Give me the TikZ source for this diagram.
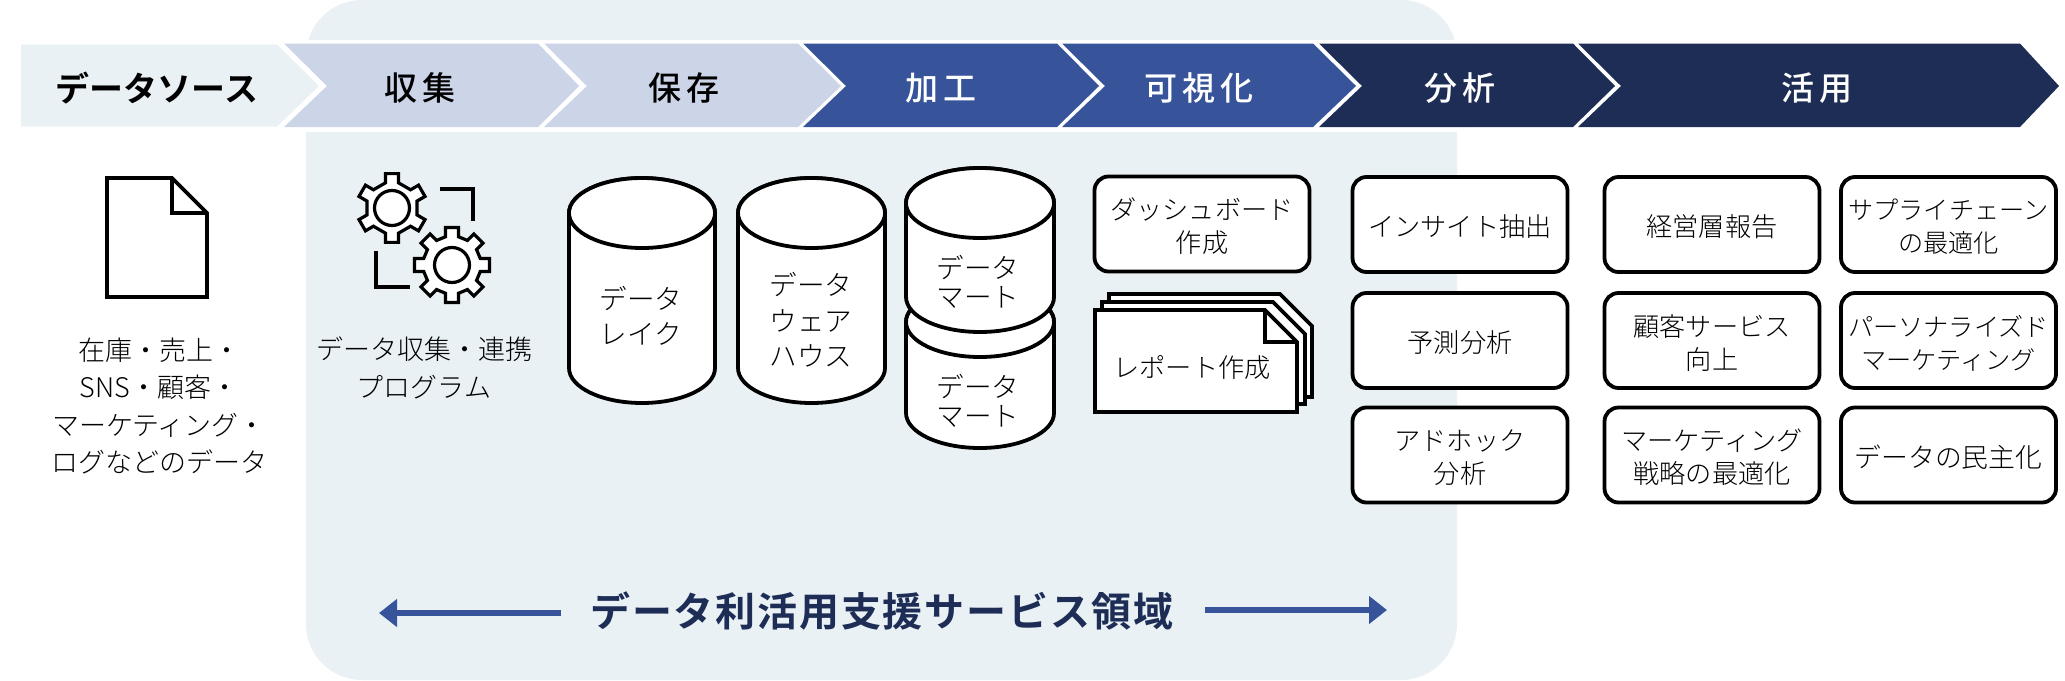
\documentclass[tikz,border=0pt]{standalone}
\usepackage{fontspec}
\usetikzlibrary{arrows.meta}
\setmainfont{Noto Sans CJK JP Light}
\newfontfamily\headfont[LetterSpace=14]{Noto Sans CJK JP Medium}
\newfontfamily\srcfont{Noto Sans CJK JP Bold}
\newfontfamily\titlefont[LetterSpace=4.5]{Noto Sans CJK JP Bold}
\definecolor{paleblue}{HTML}{E9F1F5}
\definecolor{lightband}{HTML}{CCD4E8}
\definecolor{midband}{HTML}{37549A}
\definecolor{darkband}{HTML}{1D2D56}
\lineskiplimit=-100pt
\tikzset{
  ink/.style={draw=black,line width=1.9pt,line join=miter},
  txt/.style={align=center,font=\fontsize{13.5}{18.7}\selectfont,inner sep=0pt},
  cyltxt/.style={align=center,font=\fontsize{13.8}{17.8}\selectfont,inner sep=0pt},
  marttxt/.style={align=center,font=\fontsize{13.8}{14.6}\selectfont,inner sep=0pt},
  rbox/.style={ink,fill=white,rounded corners=7pt,minimum width=107.5pt,minimum height=47.5pt,inner sep=0pt},
  boxtxt/.style={align=center,font=\fontsize{13.1}{16.5}\selectfont,inner sep=0pt,yshift=-1.2pt},
  narrowtxt/.style={boxtxt,font=\fontsize{12.6}{16.5}\selectfont},
  widetxt/.style={boxtxt,font=\fontsize{13.4}{16.5}\selectfont},
  head/.style={font=\headfont\fontsize{16.5}{18}\selectfont,inner sep=0pt},
  bandarrow/.style={draw=midband,line width=2.6pt,-{Triangle[length=9pt,width=13.5pt]}}
}
\newcommand{\chevron}[5]{%
  \fill[#5] (#1,43.5) -- (#2,43.5) -- (#3,86) -- (#2,127) -- (#1,127) -- ({#1+#4},86) -- cycle;}
\newcommand{\gearshape}[5]{%
  \begin{scope}[shift={(#1,#2)}]
  \draw[black,line width=1.6pt,fill=white,line join=miter]
    ({90-asin(6.5/#3)}:#3)
    \foreach \k in {1,...,#5}{
      -- ({90+(\k-1)*360/#5-asin(6.5/#3)}:#3)
      -- ({90+(\k-1)*360/#5-asin(6.5/#4)}:#4)
      -- ({90+(\k-1)*360/#5+asin(6.5/#4)}:#4)
      -- ({90+(\k-1)*360/#5+asin(6.5/#3)}:#3)
    } -- cycle;
  \draw[black,line width=1.6pt,fill=white] (0,0) circle [radius=17.5];
  \end{scope}}
\newcommand{\cylinder}[5]{% left right top bottom ry
  \draw[ink,fill=white] (#1,#3+#5) -- (#1,#4-#5)
    arc[start angle=180,end angle=360,x radius={(#2-#1)/2},y radius=-#5]
    -- (#2,#3+#5)
    arc[start angle=0,end angle=180,x radius={(#2-#1)/2},y radius=-#5] -- cycle;
  \draw[ink,fill=white] ({(#1+#2)/2},#3+#5) ellipse [x radius={(#2-#1)/2},y radius=#5];}
\begin{document}
\begin{tikzpicture}[x=0.5pt,y=-0.5pt]
\useasboundingbox (0,0) rectangle (2065,680);
% service panel
\fill[paleblue,rounded corners=28pt] (306,0) rectangle (1457,680);
\fill[white] (296,40) rectangle (1470,132);
% chevrons
\fill[paleblue] (21,44.5) -- (277,44.5) -- (319,86) -- (277,126.5) -- (21,126.5) -- cycle;
\chevron{284}{538}{579}{43}{lightband}
\chevron{544}{798}{841}{43}{lightband}
\chevron{803}{1057}{1099}{43}{midband}
\chevron{1062}{1313}{1356}{43}{midband}
\chevron{1319}{1573}{1615}{43}{darkband}
\chevron{1578}{2020}{2059}{43}{darkband}
\node[font=\srcfont\fontsize{17}{18}\selectfont,inner sep=0pt,text=black] (hsrc) at (157,88) {データソース};
\node[head,text=black] (h1) at (420,88) {収集};
\node[head,text=black] (h2) at (684,88) {保存};
\node[head,text=white] (h3) at (941,88) {加工};
\node[head,text=white] (h4) at (1199,88) {可視化};
\node[head,text=white] (h5) at (1460,88) {分析};
\node[head,text=white] (h6) at (1817,88) {活用};
% source document
\draw[ink,fill=white] (107,178) -- (172,178) -- (207,213) -- (207,297) -- (107,297) -- cycle;
\draw[ink] (172,178) -- (172,213) -- (207,213);
\node[txt] (srctext) at (159,406) {在庫・売上・\\SNS・顧客・\\マーケティング・\\ログなどのデータ};
% gears
\gearshape{392}{208}{26}{35}{6}
\gearshape{452}{265}{29}{38}{8}
\coordinate (b1a) at (440,189); \coordinate (b1b) at (473,189); \coordinate (b1c) at (473,221);
\coordinate (b2a) at (376,251); \coordinate (b2b) at (376,287); \coordinate (b2c) at (410,287);
\draw[black,line width=1.6pt] (b1a) -- (b1b) -- (b1c);
\draw[black,line width=1.6pt] (b2a) -- (b2b) -- (b2c);
\node[txt] (gtext) at (424,368) {データ収集・連携\\プログラム};
% cylinders
\cylinder{569}{715}{178}{403}{35}
\node[cyltxt] (c1) at (641,316) {データ\\レイク};
\cylinder{738}{885}{178}{403}{35}
\node[cyltxt] (c2) at (811,320) {データ\\ウェア\\ハウス};
\cylinder{906}{1054}{287}{448}{35}
\node[marttxt] (c4) at (978,401) {データ\\マート};
\cylinder{906}{1054}{168}{332}{35}
\node[marttxt] (c3) at (978,282) {データ\\マート};
% dashboard
\node[rbox,label={[boxtxt]center:{ダッシュボード\\作成}}] (dash) at (1202,224) {};
% report stack
\draw[ink,fill=white] (1109,294) -- (1280,294) -- (1312,326) -- (1312,397) -- (1109,397) -- cycle;
\draw[ink,fill=white] (1102,302) -- (1273,302) -- (1305,334) -- (1305,404) -- (1102,404) -- cycle;
\draw[ink,fill=white] (1095,310) -- (1265,310) -- (1297,342) -- (1297,412) -- (1095,412) -- cycle;
\draw[ink] (1265,310) -- (1265,342) -- (1297,342);
\node[txt,font=\fontsize{13.1}{17}\selectfont] (rep) at (1192,368) {レポート作成};
% analysis and use boxes
\node[rbox,label={[boxtxt]center:{インサイト抽出}}] (a1) at (1460,224.5) {};
\node[rbox,label={[boxtxt]center:{予測分析}}] (a2) at (1460,340.5) {};
\node[rbox,label={[boxtxt]center:{アドホック\\分析}}] (a3) at (1460,455) {};
\node[rbox,label={[boxtxt]center:{経営層報告}}] (u1) at (1712,224.5) {};
\node[rbox,label={[boxtxt]center:{顧客サービス\\向上}}] (u2) at (1712,340.5) {};
\node[rbox,label={[boxtxt]center:{マーケティング\\戦略の最適化}}] (u3) at (1712,455) {};
\node[rbox,label={[narrowtxt]center:{サプライチェーン\\の最適化}}] (v1) at (1948.5,224.5) {};
\node[rbox,label={[narrowtxt]center:{パーソナライズド\\マーケティング}}] (v2) at (1948.5,340.5) {};
\node[rbox,label={[widetxt]center:{データの民主化}}] (v3) at (1948.5,455) {};
% service area
\node[font=\titlefont\fontsize{20}{24}\selectfont,text=darkband,inner sep=0pt,anchor=west] (title) at (590,611.5) {データ利活用支援サービス領域};
\coordinate (ls) at (561,613); \coordinate (lt) at (379,613);
\coordinate (rs) at (1205,610); \coordinate (rt) at (1387,610);
\draw[bandarrow] (ls) -- (lt);
\draw[bandarrow] (rs) -- (rt);
\end{tikzpicture}
\end{document}
